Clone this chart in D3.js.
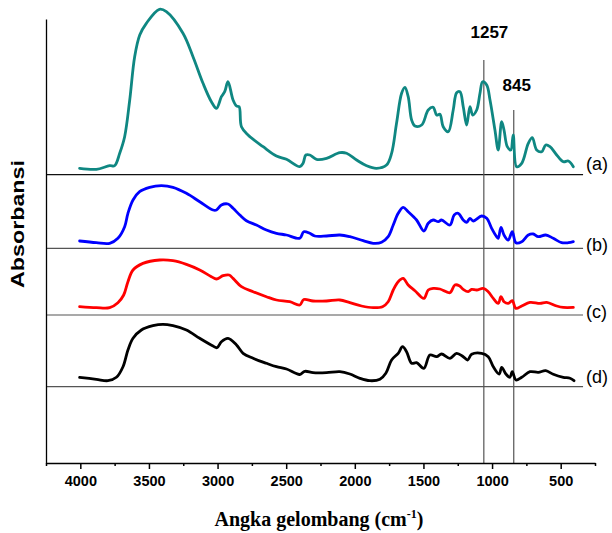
<!DOCTYPE html>
<html>
<head>
<meta charset="utf-8">
<script src="https://cdn.jsdelivr.net/npm/d3@7"></script>
<style>
  body { margin: 0; background: #fff; }
  svg { display: block; }
</style>
</head>
<body>
<div id="chart"></div>
<script>
// spectra: [wavenumber, absorbance above own baseline]
var specA = [[4005,.064],[3883,.054],[3786,.09],[3750,.09],[3713,.214],[3677,.38],[3640,.747],[3604,1.18],[3567,1.397],[3519,1.514],[3424,1.654],[3373,1.63],[3252,1.414],[3179,1.18],[3106,.914],[3045,.73],[3008,.664],[2972,.78],[2948,.83],[2924,.93],[2887,.747],[2862,.687],[2843,.68],[2826,.48],[2778,.397],[2668,.28],[2571,.187],[2498,.154],[2401,.08],[2377,.114],[2357,.197],[2328,.197],[2279,.154],[2206,.164],[2109,.22],[2060,.214],[1987,.147],[1914,.09],[1842,.064],[1769,.097],[1732,.214],[1696,.514],[1659,.814],[1635,.874],[1611,.78],[1586,.547],[1562,.487],[1513,.497],[1465,.647],[1429,.674],[1404,.597],[1380,.604],[1356,.48],[1319,.43],[1283,.647],[1258,.82],[1234,.83],[1210,.68],[1185,.497],[1161,.68],[1141,.597],[1112,.647],[1088,.814],[1069,.93],[1039,.897],[1015,.747],[979,.447],[955,.247],[930,.53],[913,.447],[889,.28],[864,.247],[846,.397],[821,.08],[784,.114],[736,.314],[707,.37],[675,.247],[638,.23],[609,.297],[578,.28],[529,.197],[481,.13],[444,.137],[408,.08]];

var specB = [[4005,.073],[3883,.056],[3786,.05],[3726,.10],[3677,.216],[3653,.35],[3616,.483],[3568,.566],[3495,.61],[3409,.626],[3325,.61],[3227,.55],[3130,.466],[3033,.383],[3008,.383],[2972,.433],[2924,.443],[2887,.40],[2838,.333],[2790,.276],[2717,.233],[2644,.183],[2571,.15],[2498,.133],[2401,.10],[2372,.166],[2328,.15],[2292,.123],[2206,.123],[2109,.133],[2036,.116],[1939,.076],[1866,.05],[1805,.06],[1757,.116],[1720,.233],[1684,.35],[1648,.41],[1611,.366],[1550,.283],[1497,.173],[1465,.25],[1429,.283],[1392,.266],[1368,.283],[1307,.233],[1276,.333],[1247,.35],[1210,.283],[1185,.26],[1161,.30],[1137,.273],[1076,.323],[1039,.30],[1003,.20],[967,.116],[955,.10],[935,.21],[913,.133],[882,.083],[853,.166],[826,.056],[784,.066],[736,.133],[700,.143],[663,.116],[609,.133],[554,.10],[493,.056],[444,.056],[408,.066]];

var specC = [[4005,.083],[3883,.073],[3786,.073],[3726,.123],[3684,.20],[3653,.333],[3616,.45],[3544,.516],[3422,.55],[3325,.543],[3227,.506],[3130,.45],[3045,.383],[3008,.36],[2960,.393],[2916,.40],[2887,.366],[2826,.283],[2741,.233],[2644,.183],[2571,.15],[2474,.133],[2401,.10],[2372,.155],[2304,.14],[2206,.14],[2109,.15],[2036,.123],[1951,.09],[1866,.073],[1798,.083],[1757,.133],[1720,.25],[1684,.333],[1648,.366],[1611,.30],[1562,.243],[1497,.166],[1465,.25],[1429,.266],[1380,.26],[1307,.223],[1271,.30],[1239,.293],[1210,.256],[1174,.233],[1149,.256],[1112,.25],[1064,.266],[1028,.233],[991,.166],[955,.116],[935,.183],[913,.133],[882,.116],[853,.143],[826,.066],[784,.09],[724,.126],[651,.116],[602,.126],[529,.09],[481,.076],[408,.076]];

var specD = [[4005,.094],[3883,.074],[3799,.06],[3737,.094],[3689,.20],[3653,.367],[3616,.484],[3555,.567],[3471,.61],[3398,.624],[3325,.61],[3227,.567],[3130,.484],[3033,.407],[3004,.39],[2972,.45],[2924,.484],[2862,.417],[2814,.334],[2741,.284],[2644,.234],[2571,.20],[2498,.177],[2401,.122],[2364,.154],[2304,.14],[2206,.14],[2109,.15],[2036,.127],[1963,.084],[1890,.06],[1817,.074],[1774,.134],[1732,.267],[1684,.334],[1652,.40],[1623,.35],[1586,.234],[1550,.24],[1497,.184],[1453,.317],[1404,.30],[1368,.327],[1307,.284],[1258,.334],[1210,.30],[1178,.267],[1149,.324],[1076,.334],[1028,.30],[991,.20],[948,.127],[930,.194],[899,.127],[870,.094],[853,.15],[826,.067],[784,.094],[724,.15],[663,.144],[609,.16],[554,.124],[481,.094],[432,.084],[403,.06]];

var seriesNames = ['(a)', '(b)', '(c)', '(d)'];
var seriesOffsets = [2.883, 2.147, 1.48, 0.763];   // vertical stacking offsets (absorbance units)
var seriesColors = ['#0f8782', '#0000ff', '#ff0000', '#000000'];

var majorTicks = [4000, 3500, 3000, 2500, 2000, 1500, 1000, 500];
var minorTicks = [4250, 3750, 3250, 2750, 2250, 1750, 1250, 750, 250];
var xDomain = [4250, 250];
var baselineEnd = 337;

var markerWave = [1060, 842];
var markerLabels = ['1257', '845'];
var markerTop = [4.03, 3.53];

var width = 612, height = 533;
var svg = d3.select('#chart').append('svg')
    .attr('width', width)
    .attr('height', height);

var xScale = d3.scaleLinear().domain(xDomain).range([46, 595]);
var yScale = d3.scaleLinear().domain([0, 4.44]).range([463, 19]);

// baselines
var lines = svg.append('g');
lines.selectAll('line.base')
    .data(seriesOffsets)
    .enter()
    .append('line')
    .attr('class', 'base')
    .attr('x1', xScale(xDomain[0]))
    .attr('x2', xScale(baselineEnd))
    .attr('y1', d => yScale(d))
    .attr('y2', d => yScale(d))
    .attr('stroke', (d, i) => i == 0 ? '#111' : '#555')
    .attr('stroke-width', 1.2);

// marker lines
lines.selectAll('line.marker')
    .data(markerWave)
    .enter()
    .append('line')
    .attr('class', 'marker')
    .attr('x1', d => xScale(d))
    .attr('x2', d => xScale(d))
    .attr('y1', (d, i) => yScale(markerTop[i]))
    .attr('y2', yScale(0))
    .attr('stroke', '#555')
    .attr('stroke-width', 1.2);

// spectra
var line = d3.line()
    .x(d => xScale(d[0]))
    .y(d => yScale(d[1]))
    .curve(d3.curveCatmullRom.alpha(0.5));

var spectra = [specA, specB, specC, specD];
svg.append('g').selectAll('path')
    .data(spectra)
    .enter()
    .append('path')
    .attr('d', (d, i) => line(d.map(p => [p[0], p[1] + seriesOffsets[i]])))
    .attr('fill', 'none')
    .attr('stroke', (d, i) => seriesColors[i])
    .attr('stroke-width', 2.8)
    .attr('stroke-linejoin', 'round')
    .attr('stroke-linecap', 'round');

// series labels
var labelDy = [-4.5, 3, 3, -3.5];
svg.append('g').selectAll('text')
    .data(seriesNames)
    .enter()
    .append('text')
    .attr('x', xScale(baselineEnd) + 3)
    .attr('y', (d, i) => yScale(seriesOffsets[i]) + labelDy[i])
    .attr('font-family', 'Liberation Sans, Arial, sans-serif')
    .attr('font-size', 18)
    .attr('fill', '#000')
    .text(d => d);

// marker labels
var markerDx = [5.6, 3];
var markerDy = [-22, -19.5];
svg.append('g').selectAll('text')
    .data(markerLabels)
    .enter()
    .append('text')
    .attr('x', (d, i) => xScale(markerWave[i]) + markerDx[i])
    .attr('y', (d, i) => yScale(markerTop[i]) + markerDy[i])
    .attr('text-anchor', 'middle')
    .attr('font-family', 'Liberation Sans, Arial, sans-serif')
    .attr('font-weight', 'bold')
    .attr('font-size', 17)
    .text(d => d);

// X axis
var xAxis = svg.append('g')
    .attr('transform', 'translate(0,' + yScale(0) + ')')
    .call(d3.axisBottom(xScale).tickValues(majorTicks).tickFormat(d3.format('d'))
        .tickSize(6).tickSizeOuter(0).tickPadding(7));
xAxis.select('.domain').attr('stroke', '#000').attr('stroke-width', 1.3);
xAxis.selectAll('.tick line').attr('stroke-width', 1.5);
xAxis.selectAll('text')
    .attr('font-family', 'Liberation Sans, Arial, sans-serif')
    .attr('font-weight', 'bold')
    .attr('font-size', 14.5)
    .attr('fill', '#000');

var xMinor = svg.append('g')
    .attr('transform', 'translate(0,' + yScale(0) + ')')
    .call(d3.axisBottom(xScale).tickValues(minorTicks).tickSize(3).tickSizeOuter(0).tickFormat(''));
xMinor.select('.domain').remove();
xMinor.selectAll('.tick line').attr('stroke-width', 1.5);

// Y axis (line only)
var yAxis = svg.append('g')
    .attr('transform', 'translate(46,0)')
    .call(d3.axisLeft(yScale).tickValues([]).tickSizeOuter(0));
yAxis.select('.domain').attr('stroke', '#000').attr('stroke-width', 1.3);

// axis titles
var xt = svg.append('text')
    .attr('x', 319)
    .attr('y', 526)
    .attr('text-anchor', 'middle')
    .attr('font-family', 'Liberation Serif, Times New Roman, serif')
    .attr('font-weight', 'bold')
    .attr('font-size', 20);
xt.append('tspan').text('Angka gelombang (cm');
xt.append('tspan').attr('font-size', 12).attr('dy', -8).text('-1');
xt.append('tspan').attr('dy', 8).text(')');

svg.append('text')
    .attr('transform', 'translate(24,224) rotate(-90)')
    .attr('text-anchor', 'middle')
    .attr('font-family', 'Liberation Sans, Arial, sans-serif')
    .attr('font-weight', 'bold')
    .attr('font-size', 19)
    .attr('textLength', 128)
    .attr('lengthAdjust', 'spacingAndGlyphs')
    .text('Absorbansi');
</script>
</body>
</html>
